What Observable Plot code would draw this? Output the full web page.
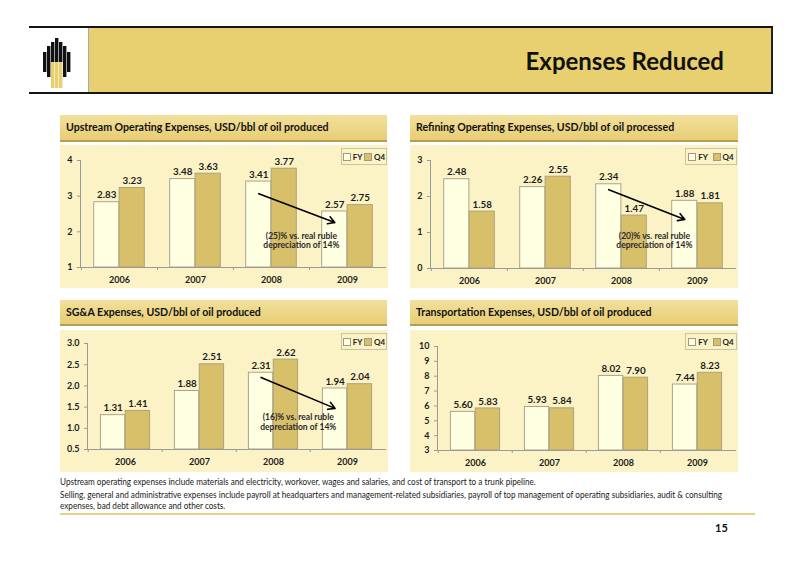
<!DOCTYPE html>
<html><head><meta charset="utf-8">
<script src="https://cdn.jsdelivr.net/npm/d3@7"></script>
<script src="https://cdn.jsdelivr.net/npm/@observablehq/plot@0.6"></script>
<style>
body{margin:0;background:#fff;}
#page{position:relative;width:800px;height:566px;overflow:hidden;font-family:Lato,"Open Sans",sans-serif;color:#111;}
.hline{position:absolute;background:#151515;height:2px;}
.band{position:absolute;background:linear-gradient(#F2E09C,#E7CD74);border-bottom:2px solid #B99D4C;font-weight:bold;font-size:10.6px;line-height:25px;padding-left:6px;box-sizing:border-box;color:#111;white-space:nowrap;}
.box{position:absolute;background:#FBF3C6;}
.box svg{position:absolute;left:0;top:0;overflow:visible;}
.legend{position:absolute;border:1px solid #CBC3A2;font-size:8px;font-weight:bold;display:flex;align-items:center;justify-content:space-around;box-sizing:border-box;color:#222;}
.sw{display:inline-block;width:6px;height:6px;border:1px solid #9F9A85;margin-right:2px;vertical-align:-1px;}
.note{position:absolute;left:60px;font-family:Lato,"Open Sans",sans-serif;font-size:9px;line-height:11px;color:#1a1a1a;white-space:nowrap;transform-origin:0 0;}
</style>
</head><body>
<div id="page">
  <div class="hline" style="left:29px;top:26px;width:744px;"></div>
  <div class="hline" style="left:29px;top:92px;width:744px;"></div>
  <div style="position:absolute;left:88px;top:28px;width:682px;height:64px;background:#E8CF6F;border-left:1px solid #aaa;border-right:2px solid #222;"></div>
  <svg style="position:absolute;left:40px;top:36px;" width="34" height="54" viewBox="0 0 34 54">
    <rect x="3" y="16" width="3.4" height="20" fill="#111"/>
    <rect x="7" y="10" width="3.4" height="31" fill="#111"/>
    <rect x="11" y="6" width="3.4" height="20" fill="#111"/>
    <rect x="15" y="2" width="3.4" height="24" fill="#111"/>
    <rect x="19" y="6" width="3.4" height="20" fill="#111"/>
    <rect x="23" y="10" width="3.4" height="31" fill="#111"/>
    <rect x="27" y="16" width="3.4" height="20" fill="#111"/>
    <rect x="11" y="26" width="3.4" height="26" fill="#E9CF6E"/>
    <rect x="15" y="26" width="3.4" height="26" fill="#E9CF6E"/>
    <rect x="19" y="26" width="3.4" height="26" fill="#E9CF6E"/>
  </svg>
  <div style="position:absolute;right:76px;top:47px;font-size:24px;line-height:28px;font-weight:bold;color:#111;">Expenses Reduced</div>

  <div class="band" style="left:60px;top:115px;width:327px;height:27px;">Upstream Operating Expenses, USD/bbl of oil produced</div>
  <div class="band" style="left:410px;top:115px;width:328px;height:27px;">Refining Operating Expenses, USD/bbl of oil processed</div>
  <div class="band" style="left:60px;top:300px;width:327px;height:26px;">SG&amp;A Expenses, USD/bbl of oil produced</div>
  <div class="band" style="left:410px;top:300px;width:328px;height:26px;">Transportation Expenses, USD/bbl of oil produced</div>

  <div class="box" id="p1" style="left:60px;top:145px;width:328px;height:143px;"></div>
  <div class="box" id="p2" style="left:410px;top:145px;width:328px;height:143px;"></div>
  <div class="box" id="p3" style="left:60px;top:330px;width:328px;height:142px;"></div>
  <div class="box" id="p4" style="left:410px;top:330px;width:328px;height:142px;"></div>

  <div class="note" id="n1" style="top:476px;">Upstream operating expenses include materials and electricity, workover, wages and salaries, and cost of transport to a trunk pipeline.</div>
  <div class="note" id="n2" style="top:489px;">Selling, general and administrative expenses include payroll at headquarters and management-related subsidiaries, payroll of top management of operating subsidiaries, audit &amp; consulting</div>
  <div class="note" id="n3" style="top:500px;">expenses, bad debt allowance and other costs.</div>
  <div style="position:absolute;left:60px;top:513px;width:695px;height:2px;background:#E4D287;"></div>
  <div style="position:absolute;left:715px;top:521px;font-size:11px;font-weight:bold;color:#111;">15</div>
</div>
<script>
const years = ["2006", "2007", "2008", "2009"];
const seriesNames = ["FY", "Q4"];

const upstreamFY = [2.83, 3.48, 3.41, 2.57];
const upstreamQ4 = [3.23, 3.63, 3.77, 2.75];
const refiningFY = [2.48, 2.26, 2.34, 1.88];
const refiningQ4 = [1.58, 2.55, 1.47, 1.81];
const sgaFY = [1.31, 1.88, 2.31, 1.94];
const sgaQ4 = [1.41, 2.51, 2.62, 2.04];
const transportFY = [5.60, 5.93, 8.02, 7.44];
const transportQ4 = [5.83, 5.84, 7.90, 8.23];

const upstreamTicks = [1, 2, 3, 4];
const refiningTicks = [0, 1, 2, 3];
const sgaTicks = [0.5, 1.0, 1.5, 2.0, 2.5, 3.0];
const transportTicks = [3, 4, 5, 6, 7, 8, 9, 10];

// annotations: arrow [x1, y1, x2, y2], note text lines, note anchor [x, y]
const upstreamArrow = ["2008", 3.07, "2009", 2.26];
const upstreamNote = ["(25)% vs. real ruble", "depreciation of 14%"];
const upstreamNoteAt = ["2009", 1.76];
const refiningArrow = ["2008", 2.19, "2009", 1.36];
const refiningNote = ["(20)% vs. real ruble", "depreciation of 14%"];
const refiningNoteAt = ["2009", 0.78];
const sgaArrow = ["2008", 2.20, "2009", 1.47];
const sgaNote = ["(16)% vs. real ruble", "depreciation of 14%"];
const sgaNoteAt = ["2009", 1.15];

const FY_FILL = "#FFFFE2", FY_STROKE = "#A8A490";
const Q4_FILL = "#D8BF6A", Q4_STROKE = "#ADA27A";
const AXIS = "#9A9A9A", TXT = "#1c1c1c";

function legend(box, w) {
  const lg = document.createElement("div");
  lg.className = "legend";
  lg.style.right = "1px"; lg.style.top = "3px"; lg.style.width = w + "px"; lg.style.height = "17px";
  lg.innerHTML = `<span><span class="sw" style="background:${FY_FILL}"></span>${seriesNames[0]}</span><span><span class="sw" style="background:${Q4_FILL}"></span>${seriesNames[1]}</span>`;
  box.appendChild(lg);
}

function drawPanel(cfg) {
  const box = document.getElementById(cfg.id);
  const width = 328, height = cfg.height, mr = 3;
  const step = (width - cfg.ml - mr) / years.length;
  const data = years.map((y, i) => ({year: y, fy: cfg.fy[i], q4: cfg.q4[i]}));
  const y0 = cfg.domain[0];
  const marks = [
    Plot.barY(data, {x: "year", y1: y0, y2: "fy", insetLeft: step / 6, insetRight: step / 2, fill: FY_FILL, stroke: FY_STROKE, strokeWidth: 1}),
    Plot.barY(data, {x: "year", y1: y0, y2: "q4", insetLeft: step / 2, insetRight: step / 6, fill: Q4_FILL, stroke: Q4_STROKE, strokeWidth: 1}),
    Plot.frame({anchor: "left", stroke: AXIS}),
    Plot.frame({anchor: "bottom", stroke: AXIS}),
    Plot.axisY({ticks: cfg.ticks, tickFormat: cfg.fmt, tickSize: 3, tickPadding: 5, stroke: AXIS, fill: TXT, fontWeight: "bold", fontSize: 9, label: null}),
    Plot.axisX({tickSize: 3, tickFormat: () => "", dx: -step / 2, stroke: AXIS, label: null}),
    Plot.axisX({tickSize: 0, tickPadding: 9, fill: TXT, fontWeight: "bold", fontSize: 9, label: null}),
    Plot.text(data, {x: "year", y: "fy", text: d => d.fy.toFixed(2), dx: -step / 6, dy: -7, fill: TXT, fontWeight: "bold", fontSize: 9.8}),
    Plot.text(data, {x: "year", y: "q4", text: d => d.q4.toFixed(2), dx: step / 6, dy: -7, fill: TXT, fontWeight: "bold", fontSize: 9.8})
  ];
  if (cfg.arrow) {
    const a = cfg.arrow;
    marks.push(Plot.arrow([a], {x1: d => d[0], y1: d => d[1], x2: d => d[2], y2: d => d[3], dx: -step / 6, stroke: "#000", strokeWidth: 1.6, headLength: 7}));
    marks.push(Plot.text([cfg.noteAt], {x: d => d[0], y: d => d[1], text: () => cfg.note.join("\n"), dx: -step / 2 + cfg.noteDx, lineHeight: 1.15, fill: "#2a2a2a", fontWeight: "bold", fontSize: 8.5}));
  }
  const svg = Plot.plot({
    width, height,
    marginLeft: cfg.ml, marginRight: mr, marginTop: cfg.mt, marginBottom: cfg.mb,
    x: {type: "band", domain: years, padding: 0},
    y: {domain: cfg.domain},
    style: {background: "transparent", fontFamily: "Lato, 'Open Sans', sans-serif", fontSize: "9px", color: TXT, overflow: "visible"},
    marks
  });
  box.appendChild(svg);
  legend(box, cfg.legendW);
}

drawPanel({id: "p1", height: 143, ml: 20, mt: 15, mb: 21, domain: [1, 4], ticks: upstreamTicks, fmt: d3.format("d"),
  fy: upstreamFY, q4: upstreamQ4, arrow: upstreamArrow, note: upstreamNote, noteAt: upstreamNoteAt, noteDx: -8, legendW: 46});
drawPanel({id: "p2", height: 143, ml: 20, mt: 15, mb: 20, domain: [0, 3], ticks: refiningTicks, fmt: d3.format("d"),
  fy: refiningFY, q4: refiningQ4, arrow: refiningArrow, note: refiningNote, noteAt: refiningNoteAt, noteDx: -5, legendW: 52});
drawPanel({id: "p3", height: 142, ml: 27, mt: 13, mb: 23, domain: [0.5, 3.0], ticks: sgaTicks, fmt: d3.format(".1f"),
  fy: sgaFY, q4: sgaQ4, arrow: sgaArrow, note: sgaNote, noteAt: sgaNoteAt, noteDx: -12, legendW: 46});
drawPanel({id: "p4", height: 142, ml: 27, mt: 16, mb: 22, domain: [3, 10], ticks: transportTicks, fmt: d3.format("d"),
  fy: transportFY, q4: transportQ4, legendW: 52});

// condense the footnote lines so the long line ends where the reference's does
const n2 = document.getElementById("n2");
const k = 662 / n2.getBoundingClientRect().width;
for (const id of ["n1", "n2", "n3"]) document.getElementById(id).style.transform = `scaleX(${k})`;
</script>
</body></html>
